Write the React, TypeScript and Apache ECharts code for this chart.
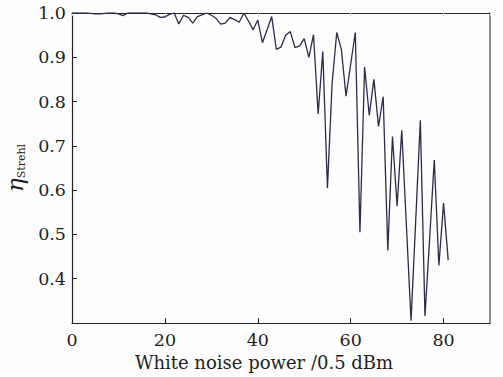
import React, { useEffect, useRef } from "react";
import * as echarts from "echarts";

const xValues: number[] = [
  0, 1, 2, 3, 4, 5, 6, 7, 8, 9,
  10, 11, 12, 13, 14, 15, 16, 17, 18, 19,
  20, 21, 22, 23, 24, 25, 26, 27, 28, 29,
  30, 31, 32, 33, 34, 35, 36, 37, 38, 39,
  40, 41, 42, 43, 44, 45, 46, 47, 48, 49,
  50, 51, 52, 53, 54, 55, 56, 57, 58, 59,
  60, 61, 62, 63, 64, 65, 66, 67, 68, 69,
  70, 71, 72, 73, 74, 75, 76, 77, 78, 79,
  80, 81,
];

const strehlValues: number[] = [
  1.0, 1.0, 1.0, 1.0, 0.999, 0.998, 0.998, 0.999, 1.0, 1.0,
  0.998, 0.994, 1.0, 1.0, 1.0, 1.0, 1.0, 0.998, 0.996, 0.99,
  0.991, 0.997, 1.0, 0.975, 0.995, 0.99, 0.977, 0.992, 0.996, 1.0,
  0.995, 0.988, 0.975, 0.977, 0.99, 0.985, 0.979, 1.0, 0.982, 0.962,
  0.984, 0.933, 0.962, 0.992, 0.918, 0.923, 0.95, 0.958, 0.922, 0.926,
  0.942, 0.9, 0.951, 0.772, 0.913, 0.605, 0.84, 0.956, 0.918, 0.812,
  0.884, 0.956, 0.505, 0.878, 0.769, 0.85, 0.744, 0.811, 0.464, 0.721,
  0.564, 0.735, 0.52, 0.305, 0.53, 0.758, 0.316, 0.49, 0.668, 0.43,
  0.571, 0.442,
];

const xAxisTitle = "White noise power /0.5 dBm";
const yAxisSymbol = "η";
const yAxisSub = "Strehl";

export default function App() {
  const ref = useRef<HTMLDivElement>(null);
  useEffect(() => {
    if (!ref.current) return;
    const chart = echarts.init(ref.current, null, { renderer: "svg" });
    const font = "DejaVu Serif";
    const data = xValues.map((x, i) => [x, strehlValues[i]]);
    chart.setOption({
      animation: false,
      backgroundColor: "#fdfdfd",
      grid: {
        left: 72,
        top: 13,
        right: 13,
        bottom: 54,
        containLabel: false,
        outerBoundsMode: "none",
      },
      xAxis: [
        {
          type: "value",
          min: 0,
          max: 90,
          interval: 20,
          name: xAxisTitle,
          nameLocation: "middle",
          nameGap: 28,
          nameTextStyle: {
            fontFamily: font,
            fontSize: 18,
            color: "#1e1e1e",
            padding: [0, 34, 0, 0],
          },
          axisLine: { show: true, lineStyle: { color: "#222", width: 1.2 } },
          axisTick: { show: true, inside: true, length: 5, lineStyle: { color: "#222" } },
          axisLabel: {
            showMaxLabel: false,
            fontFamily: font,
            fontSize: 17.5,
            color: "#1e1e1e",
            margin: 8,
          },
          splitLine: { show: false },
        },
        {
          type: "value",
          position: "top",
          min: 0,
          max: 90,
          interval: 20,
          axisLine: { show: true, onZero: false, lineStyle: { color: "#222", width: 1.2 } },
          axisTick: { show: true, inside: true, length: 3, lineStyle: { color: "#ccc" } },
          axisLabel: { show: false },
          splitLine: { show: false },
        },
      ],
      yAxis: [
        {
          type: "value",
          min: 0.3,
          max: 1.0,
          interval: 0.1,
          name: `{a|${yAxisSymbol}}{b|${yAxisSub}}`,
          nameLocation: "middle",
          nameGap: 43,
          nameTextStyle: {
            rich: {
              a: { fontFamily: font, fontSize: 23, fontStyle: "italic", color: "#1e1e1e", lineHeight: 25 },
              b: { fontFamily: font, fontSize: 11, color: "#1e1e1e", verticalAlign: "bottom", lineHeight: 13 },
            },
          },
          axisLine: { show: true, lineStyle: { color: "#222", width: 1.2 } },
          axisTick: { show: true, inside: true, length: 5, lineStyle: { color: "#222" } },
          axisLabel: {
            showMinLabel: false,
            fontFamily: font,
            fontSize: 17.5,
            color: "#1e1e1e",
            margin: 6,
            formatter: (v: number) => v.toFixed(1),
          },
          splitLine: { show: false },
        },
        {
          type: "value",
          position: "right",
          min: 0.3,
          max: 1.0,
          interval: 0.1,
          axisLine: { show: true, onZero: false, lineStyle: { color: "#666", width: 1.5 } },
          axisTick: { show: false },
          axisLabel: { show: false },
          splitLine: { show: false },
        },
      ],
      series: [
        {
          type: "line",
          data,
          xAxisIndex: 0,
          yAxisIndex: 0,
          symbol: "none",
          lineStyle: { color: "#2b2a4c", width: 1.3 },
        },
      ],
    });
    return () => chart.dispose();
  }, []);
  return (
    <div
      ref={ref}
      style={{ position: "fixed", left: 0, top: 0, width: 503, height: 377 }}
    />
  );
}
